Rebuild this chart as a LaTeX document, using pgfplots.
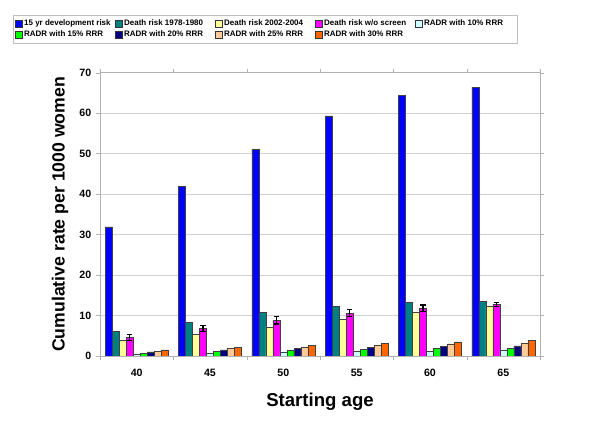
\documentclass[border=0pt]{standalone}
\usepackage{fontspec}
\setmainfont{Liberation Sans}
\usepackage{pgfplots}
\pgfplotsset{compat=1.18}
\usepackage{pgfplotstable}
\definecolor{cBlue}{RGB}{0,0,255}
\definecolor{cTeal}{RGB}{0,128,128}
\definecolor{cYellow}{RGB}{255,255,153}
\definecolor{cMag}{RGB}{255,0,255}
\definecolor{cLCyan}{RGB}{204,255,255}
\definecolor{cGreen}{RGB}{0,255,0}
\definecolor{cNavy}{RGB}{0,0,128}
\definecolor{cPeach}{RGB}{255,204,153}
\definecolor{cOrange}{RGB}{255,102,0}
\pgfplotstableread{
x blue teal yellow mag magerr lcyan green navy peach orange
0 31.9 6.0 3.8 4.6 0.7 0.5 0.65 1.0 1.2 1.5
1 42.0 8.4 5.3 6.8 0.8 0.65 1.05 1.5 1.8 2.05
2 51.0 10.7 7.2 8.8 0.9 1.0 1.4 1.8 2.2 2.6
3 59.3 12.3 9.0 10.6 0.9 1.2 1.7 2.1 2.6 3.2
4 64.4 13.2 10.7 11.8 0.8 1.2 1.8 2.4 3.0 3.5
5 66.4 13.4 12.3 12.8 0.5 1.5 1.9 2.5 3.2 3.9
}\data
\pgfplotsset{
  sq/.style={legend image code/.code={\draw[##1,/tikz/.cd,line width=0.4pt,draw=black!80] (0bp,-2.6bp) rectangle (5.2bp,2.6bp);}},
  barstyle/.style={draw=black!75, line width=0.4pt, sq},
}
\newcommand{\legtxt}[1]{\makebox[67bp][l]{#1}}
\begin{document}
\begin{tikzpicture}
\useasboundingbox (0,0) rectangle (450bp,316.5bp);
\begin{axis}[
  at={(75bp,49.5bp)}, anchor=south west,
  scale only axis, width=330bp, height=212.5bp,
  ybar=0pt, bar width=5.25bp,
  xmin=-0.5, xmax=5.5, ymin=0, ymax=70,
  ytick={0,10,...,70},
  xtick={0,...,5}, xticklabels={40,45,50,55,60,65},
  minor xtick={-0.5,0.5,...,5.5},
  major x tick style={draw=none},
  minor tick length=3bp,
  major tick length=3bp,
  tick align=outside,
  tick style={black!30},
  ymajorgrids, major grid style={black!18, line width=0.6pt},
  axis line style={black!30},
  /pgf/number format/assume math mode=true,
  ticklabel style={font=\bfseries\fontsize{8}{9}\selectfont},
  xticklabel style={yshift=-3bp},
  xlabel={Starting age},
  ylabel={Cumulative rate per 1000 women},
  xlabel style={font=\bfseries\fontsize{14}{16}\selectfont, at={(axis description cs:0.5,-0.162)}, anchor=center},
  ylabel style={font=\bfseries\fontsize{13.3}{15}\selectfont, at={(axis description cs:-0.091,0.5)}, anchor=center},
  legend columns=5,
  legend cell align=left,
  legend style={at={(axis description cs:-0.198,1.204)}, anchor=north west,
    draw=black!25, font=\bfseries\fontsize{6.0}{7.2}\selectfont,
    nodes={inner xsep=1.2bp, inner ysep=1.4bp}, inner xsep=1.5bp, inner ysep=2bp},
]
\addplot[barstyle, fill=cBlue] table[x=x,y=blue]{\data};
\addlegendentry{\legtxt{15 yr development risk}}
\addplot[barstyle, fill=cTeal] table[x=x,y=teal]{\data};
\addlegendentry{\legtxt{Death risk 1978-1980}}
\addplot[barstyle, fill=cYellow] table[x=x,y=yellow]{\data};
\addlegendentry{\legtxt{Death risk 2002-2004}}
\addplot[barstyle, fill=cMag, error bars/.cd, y dir=both, y explicit,
  error bar style={black, line width=0.8pt},
  error mark options={rotate=90, mark size=2bp, black, line width=0.8pt}]
  table[x=x,y=mag,y error=magerr]{\data};
\addlegendentry{\legtxt{Death risk w/o screen}}
\addplot[barstyle, fill=cLCyan] table[x=x,y=lcyan]{\data};
\addlegendentry{\legtxt{RADR with 10\% RRR}}
\addplot[barstyle, fill=cGreen] table[x=x,y=green]{\data};
\addlegendentry{\legtxt{RADR with 15\% RRR}}
\addplot[barstyle, fill=cNavy] table[x=x,y=navy]{\data};
\addlegendentry{\legtxt{RADR with 20\% RRR}}
\addplot[barstyle, fill=cPeach] table[x=x,y=peach]{\data};
\addlegendentry{\legtxt{RADR with 25\% RRR}}
\addplot[barstyle, fill=cOrange] table[x=x,y=orange]{\data};
\addlegendentry{\legtxt{RADR with 30\% RRR}}
\end{axis}
\end{tikzpicture}
\end{document}
